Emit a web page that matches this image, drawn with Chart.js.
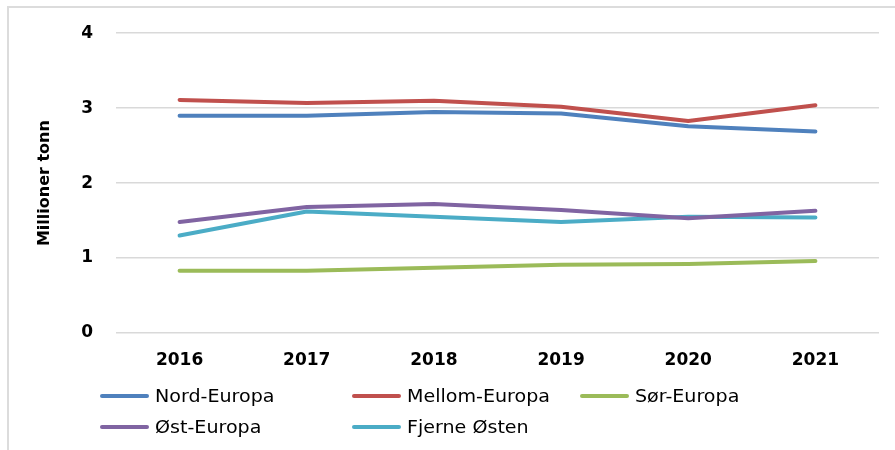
<!DOCTYPE html>
<html>
<head>
<meta charset="utf-8">
<script src="https://cdn.jsdelivr.net/npm/chart.js@4.4.1/dist/chart.umd.min.js"></script>
<style>
    html, body { margin: 0; padding: 0; background: #fff; }
    body { width: 895px; height: 450px; position: relative; overflow: hidden; font-family: "DejaVu Sans", sans-serif; }
    #frame { position: absolute; left: 7px; top: 6px; width: 900px; height: 460px; border: 2px solid #dcdcdc; box-sizing: border-box; }
    #wrap { position: absolute; left: 0; top: 0; width: 895px; height: 380px; }
    #legend { position: absolute; left: 0; top: 0; width: 895px; height: 450px; pointer-events: none; }
    .item { position: absolute; width: 240px; height: 26px; font-size: 18px; color: #000; white-space: nowrap; }
    .swatch { position: absolute; left: 0; top: 11px; width: 49px; height: 4px; border-radius: 2px; }
    .txt { position: absolute; left: 55px; top: 0; line-height: 26px; transform: scaleX(1.06); transform-origin: left center; }
</style>
</head>
<body>
<div id="frame"></div>
<div id="wrap"><canvas id="lineChart"></canvas></div>
<div id="legend"></div>
<script>
const years = ['2016', '2017', '2018', '2019', '2020', '2021'];
const nordEuropa   = [2.90, 2.90, 2.95, 2.93, 2.76, 2.69];
const mellomEuropa = [3.11, 3.07, 3.10, 3.02, 2.83, 3.04];
const sorEuropa    = [0.83, 0.83, 0.87, 0.91, 0.92, 0.96];
const ostEuropa    = [1.48, 1.68, 1.72, 1.64, 1.53, 1.63];
const fjerneOsten  = [1.30, 1.62, 1.55, 1.48, 1.55, 1.54];
const yTicks = [0, 1, 2, 3, 4];

const seriesNames = ['Nord-Europa', 'Mellom-Europa', 'Sør-Europa', 'Øst-Europa', 'Fjerne Østen'];
const seriesData = [nordEuropa, mellomEuropa, sorEuropa, ostEuropa, fjerneOsten];
const seriesColors = ['#4F81BD', '#C0504D', '#9BBB59', '#8064A2', '#4BACC6'];

const ctx = document.getElementById('lineChart').getContext('2d');

const chart = new Chart(ctx, {
    type: 'line',
    data: {
        labels: years,
        datasets: seriesNames.map((name, i) => ({
            label: name,
            data: seriesData[i],
            borderColor: seriesColors[i],
            backgroundColor: seriesColors[i],
            borderWidth: 4,
            borderCapStyle: 'round',
            borderJoinStyle: 'round',
            pointRadius: 0,
            tension: 0,
            fill: false
        }))
    },
    options: {
        responsive: true,
        maintainAspectRatio: false,
        animation: false,
        layout: {
            padding: { left: 0, top: 33, right: 16, bottom: 0 }
        },
        plugins: {
            legend: { display: false },
            tooltip: { enabled: false }
        },
        scales: {
            x: {
                offset: true,
                grid: { display: false, drawTicks: false },
                border: { display: false },
                ticks: {
                    color: '#000',
                    padding: 17,
                    font: { family: 'DejaVu Sans', size: 17, weight: 'bold' }
                },
                afterFit: function(scale) { scale.height = 47; }
            },
            y: {
                min: 0,
                max: 4,
                afterBuildTicks: function(scale) {
                    scale.ticks = yTicks.map(v => ({ value: v }));
                },
                grid: { color: '#d9d9d9', lineWidth: 1.5, drawTicks: false },
                border: { display: false },
                ticks: {
                    color: '#000',
                    padding: 23,
                    font: { family: 'DejaVu Sans', size: 17, weight: 'bold' }
                },
                title: {
                    display: true,
                    text: 'Millioner tonn',
                    color: '#000',
                    padding: { top: 35, bottom: 0 },
                    font: { family: 'DejaVu Sans', size: 16, weight: 'bold' }
                },
                afterFit: function(scale) { scale.width = 116; }
            }
        }
    }
});

// HTML legend laid out in fixed columns like the original
const legendCols = [100, 352, 580];
const legendRows = [396, 427];
const legendEl = document.getElementById('legend');
chart.data.datasets.forEach((ds, i) => {
    const item = document.createElement('div');
    item.className = 'item';
    item.style.left = legendCols[i % 3] + 'px';
    item.style.top = (legendRows[Math.floor(i / 3)] - 13) + 'px';
    item.innerHTML = '<span class="swatch" style="background:' + ds.borderColor + '"></span><span class="txt">' + ds.label + '</span>';
    legendEl.appendChild(item);
});
</script>
</body>
</html>
